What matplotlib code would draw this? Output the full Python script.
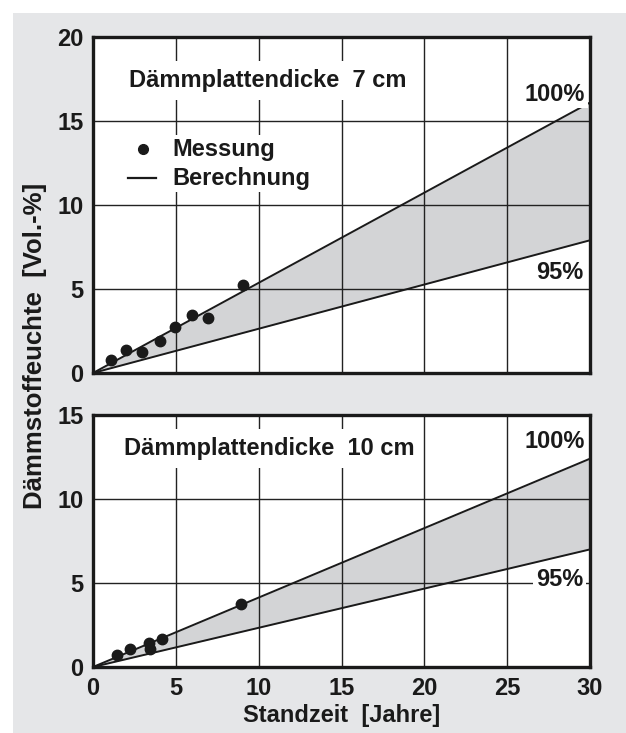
import matplotlib
matplotlib.use("Agg")
import matplotlib.pyplot as plt
from matplotlib.patches import Rectangle

plt.rcParams['font.family'] = ['Liberation Sans', 'DejaVu Sans']
plt.rcParams['font.weight'] = 'bold'

# ---- data ----
line_x = [0, 30]
top_upper = [0, 16.1]   # 100%
top_lower = [0, 7.9]    # 95%
top_meas_x = [1.09, 1.99, 2.96, 4.04, 4.95, 5.97, 6.94, 9.05]
top_meas_y = [0.77, 1.37, 1.25, 1.90, 2.74, 3.45, 3.27, 5.24]

bot_upper = [0, 12.4]
bot_lower = [0, 7.0]
bot_meas_x = [1.43, 2.21, 3.40, 3.46, 4.16, 8.91]
bot_meas_y = [0.73, 1.09, 1.41, 1.09, 1.65, 3.77]

x_ticks = [0, 5, 10, 15, 20, 25, 30]
top_yticks = [0, 5, 10, 15, 20]
bot_yticks = [0, 5, 10, 15]

title_top = "Dämmplattendicke  7 cm"
title_bot = "Dämmplattendicke  10 cm"
xlabel = "Standzeit  [Jahre]"
ylabel = "Dämmstoffeuchte  [Vol.-%]"

W, H = 626, 733
fig = plt.figure(figsize=(W / 100, H / 100), dpi=100)
fig.patch.set_facecolor('white')
bg = Rectangle((13 / W, 0), 1 - 13 / W, 1 - 13 / H,
               transform=fig.transFigure, facecolor='#e5e6e8',
               edgecolor='none', zorder=-10)
fig.add_artist(bg)

L, R = 93, 590
ax1 = fig.add_axes([L / W, (H - 373) / H, (R - L) / W, 336 / H])
ax2 = fig.add_axes([L / W, (H - 667) / H, (R - L) / W, 252 / H])

fill_c = '#d3d4d6'
fs = 17
ink = '#1a1a1a'

def style(ax, yticks, ymax):
    ax.set_xlim(0, 30)
    ax.set_ylim(0, ymax)
    ax.set_xticks(x_ticks)
    ax.set_yticks(yticks)
    ax.grid(True, color='#222222', linewidth=1.0, zorder=2)
    ax.set_axisbelow(False)
    for s in ax.spines.values():
        s.set_linewidth(2.4)
        s.set_color(ink)
        s.set_zorder(6)
    ax.tick_params(length=0, labelsize=fs, pad=7)
    for t in ax.get_xticklabels() + ax.get_yticklabels():
        t.set_fontweight('bold')
        t.set_color(ink)

def panel(ax, upper, lower, mx, my):
    ax.fill_between(line_x, lower, upper, color=fill_c, zorder=1, linewidth=0)
    ax.plot(line_x, upper, color=ink, lw=1.4, zorder=3)
    ax.plot(line_x, lower, color=ink, lw=1.4, zorder=3)
    ax.plot(mx, my, 'o', color=ink, ms=7.5, zorder=5, clip_on=False)

bbox = dict(facecolor='white', edgecolor='none', pad=2)

panel(ax1, top_upper, top_lower, top_meas_x, top_meas_y)
style(ax1, top_yticks, 20)
ax1.set_xticklabels([])
ax1.text(2.2, 17.4, title_top, fontsize=fs, fontweight='bold', va='center',
         ha='left', color=ink, bbox=dict(facecolor='white', edgecolor='none', pad=6), zorder=4)
ax1.text(29.7, 16.6, "100%", fontsize=fs, fontweight='bold', va='center', ha='right',
         color=ink, bbox=bbox, zorder=4)
ax1.text(29.6, 6.0, "95%", fontsize=fs, fontweight='bold', va='center', ha='right',
         color=ink, bbox=bbox, zorder=4)
# legend
ax1.add_patch(Rectangle((1.9, 10.5), 2.9, 3.9, facecolor='white', edgecolor='none', zorder=4))
ax1.text(4.8, 13.3, "Messung", fontsize=fs, fontweight='bold', va='center', ha='left',
         color=ink, bbox=bbox, zorder=4)
ax1.text(4.8, 11.6, "Berechnung", fontsize=fs, fontweight='bold', va='center', ha='left',
         color=ink, bbox=bbox, zorder=4)
ax1.plot([3.0], [13.35], 'o', color=ink, ms=7, zorder=5)
ax1.plot([2.1, 3.8], [11.6, 11.6], color=ink, lw=1.6, zorder=5)

panel(ax2, bot_upper, bot_lower, bot_meas_x, bot_meas_y)
style(ax2, bot_yticks, 15)
ax2.text(1.9, 13.0, title_bot, fontsize=fs, fontweight='bold', va='center',
         ha='left', color=ink, bbox=dict(facecolor='white', edgecolor='none', pad=6), zorder=4)
ax2.text(29.7, 13.4, "100%", fontsize=fs, fontweight='bold', va='center', ha='right',
         color=ink, bbox=bbox, zorder=4)
ax2.text(29.6, 5.2, "95%", fontsize=fs, fontweight='bold', va='center', ha='right',
         color=ink, bbox=bbox, zorder=4)
ax2.set_xlabel(xlabel, fontsize=fs, fontweight='bold', color=ink, labelpad=3)

fig.text(35 / W, 1 - 346 / H, ylabel, rotation=90, fontsize=18.5, fontweight='bold',
         ha='center', va='center', color=ink)

fig.savefig("out.png", dpi=100)
